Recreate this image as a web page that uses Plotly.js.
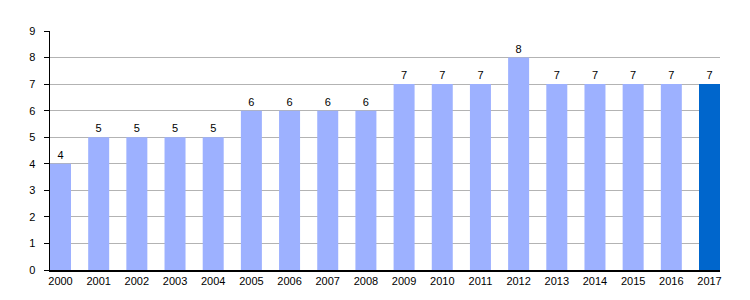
<!DOCTYPE html>
<html><head><meta charset="utf-8">
<script src="https://cdn.plot.ly/plotly-3.0.1.min.js"></script>
<style>body{margin:0;background:#fff}#c{width:750px;height:300px}</style>
</head><body><div id="c"></div>
<script>
const years = ["2000","2001","2002","2003","2004","2005","2006","2007","2008","2009","2010","2011","2012","2013","2014","2015","2016","2017"];
const values = [4,5,5,5,5,6,6,6,6,7,7,7,8,7,7,7,7,7];
const colors = years.map((y,i)=> i===years.length-1 ? "#0066cc" : "#9db1ff");
Plotly.newPlot("c", [{
  type: "bar", x: years, y: values, width: 0.55,
  marker: {color: colors},
  text: values.map(String), textposition: "outside", cliponaxis: false,
  textfont: {family: "Liberation Sans, Arial, sans-serif", size: 11, color: "#000"},
  hoverinfo: "none"
}], {
  width: 750, height: 300,
  margin: {l: 50, r: 30, t: 31, b: 30},
  paper_bgcolor: "#fff", plot_bgcolor: "#fff",
  font: {family: "Liberation Sans, Arial, sans-serif", size: 11, color: "#000"},
  showlegend: false,
  xaxis: {type: "category", range: [-0.275, 17.275], showline: true, linecolor: "#000", linewidth: 1.5,
          ticks: "", showgrid: false, tickfont: {size: 11}},
  yaxis: {range: [0, 9], dtick: 1, showline: true, linecolor: "#000", linewidth: 1.5,
          ticks: "outside", ticklen: 5, tickcolor: "#000", gridcolor: "#b3b3b3", zeroline: false,
          ticklabelstandoff: 6, tickfont: {size: 11}}
}, {staticPlot: true});
</script></body></html>
